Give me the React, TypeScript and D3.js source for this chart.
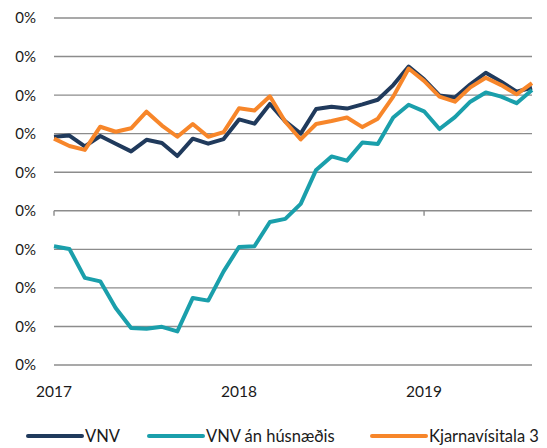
import React from "react";
import * as d3 from "d3";

// Monthly values, Jan 2017 – Aug 2019 (12-month change, %)
const months: string[] = [
  "2017-01","2017-02","2017-03","2017-04","2017-05","2017-06","2017-07","2017-08","2017-09","2017-10","2017-11","2017-12",
  "2018-01","2018-02","2018-03","2018-04","2018-05","2018-06","2018-07","2018-08","2018-09","2018-10","2018-11","2018-12",
  "2019-01","2019-02","2019-03","2019-04","2019-05","2019-06","2019-07","2019-08",
];

const vnv: number[] = [
  1.92, 1.95, 1.67, 1.94, 1.74, 1.54, 1.84, 1.76, 1.42, 1.87, 1.74, 1.86,
  2.37, 2.26, 2.77, 2.32, 2.0, 2.64, 2.7, 2.65, 2.76, 2.88, 3.26, 3.74,
  3.41, 2.99, 2.94, 3.28, 3.58, 3.35, 3.09, 3.19,
];

const vnvAnHusnaedis: number[] = [
  -0.92, -0.99, -1.74, -1.83, -2.52, -3.04, -3.06, -3.01, -3.13, -2.26, -2.33, -1.57,
  -0.94, -0.92, -0.29, -0.21, 0.18, 1.06, 1.41, 1.3, 1.77, 1.73, 2.42, 2.75,
  2.58, 2.12, 2.43, 2.83, 3.07, 2.96, 2.79, 3.13,
];

const kjarnavisitala3: number[] = [
  1.87, 1.68, 1.58, 2.18, 2.05, 2.14, 2.57, 2.21, 1.92, 2.25, 1.92, 2.04,
  2.66, 2.6, 2.97, 2.31, 1.85, 2.25, 2.33, 2.42, 2.17, 2.39, 2.96, 3.69,
  3.37, 2.96, 2.83, 3.2, 3.45, 3.26, 3.02, 3.31,
];

const yTicks: number[] = [-4, -3, -2, -1, 0, 1, 2, 3, 4, 5];
const yTickLabels: string[] = ["0%", "0%", "0%", "0%", "0%", "0%", "0%", "0%", "0%", "0%"];
const xTickIndex: number[] = [0, 12, 24];
const xTickLabels: string[] = ["2017", "2018", "2019"];

const seriesNames: string[] = ["VNV", "VNV án húsnæðis", "Kjarnavísitala 3"];
const seriesColors: string[] = ["#203a5c", "#1a9fab", "#f7862a"];

const W = 547;
const H = 448;
const FONT = "Lato, 'Liberation Sans', sans-serif";

export default function App() {
  const x = d3.scaleLinear().domain([0, months.length - 1]).range([54, 532]);
  const y = d3.scaleLinear().domain([-4, 5]).range([365, 18]);
  const line = d3
    .line<number>()
    .x((_, i) => x(i))
    .y((d) => y(d));

  const series = [vnv, vnvAnHusnaedis, kjarnavisitala3];
  const legendX = [28, 149, 372];
  const legendY = 436;

  return (
    <svg
      width={W}
      height={H}
      style={{ position: "fixed", left: 0, top: 0, background: "#fff" }}
      fontFamily={FONT}
    >
      <rect width={W} height={H} fill="#fff" />
      {yTicks.map((t, i) => (
        <g key={t}>
          <line x1={x(0)} x2={x(months.length - 1)} y1={y(t)} y2={y(t)} stroke="#8c8c8c" strokeWidth={1.4} />
          <text x={36} y={y(t)} dy="0.36em" textAnchor="end" fontSize={15} fill="#1a1a1a">
            {yTickLabels[i]}
          </text>
        </g>
      ))}
      {xTickIndex.map((t, i) => (
        <g key={t}>
          <line x1={x(t)} x2={x(t)} y1={y(0)} y2={y(0) + 5} stroke="#8c8c8c" strokeWidth={1.4} />
          <text x={x(t)} y={397} textAnchor="middle" fontSize={15.5} fill="#1a1a1a">
            {xTickLabels[i]}
          </text>
        </g>
      ))}
      {series.map((s, i) => (
        <path
          key={seriesNames[i]}
          d={line(s) || ""}
          fill="none"
          stroke={seriesColors[i]}
          strokeWidth={4}
          strokeLinejoin="round"
          strokeLinecap="butt"
        />
      ))}
      {seriesNames.map((n, i) => (
        <g key={n}>
          <line x1={legendX[i]} x2={legendX[i] + 54} y1={legendY} y2={legendY} stroke={seriesColors[i]} strokeWidth={4} strokeLinecap="round" />
          <text x={legendX[i] + 57} y={legendY} dy="0.36em" fontSize={16.5} fill="#1a1a1a">
            {n}
          </text>
        </g>
      ))}
    </svg>
  );
}
